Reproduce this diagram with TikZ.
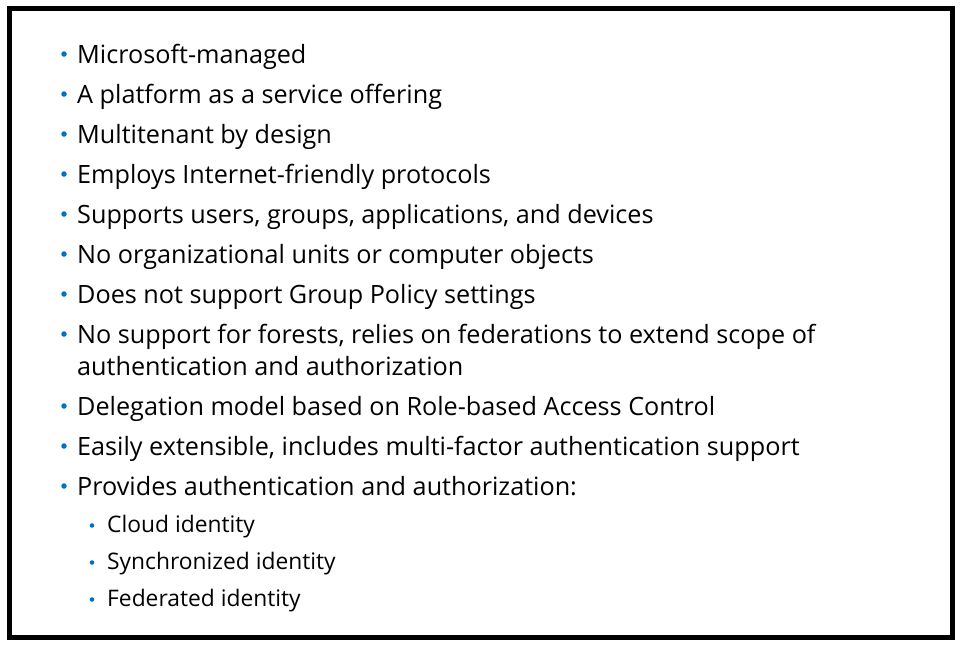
\documentclass[tikz,border=0pt]{standalone}
\usepackage{fontspec}
\setmainfont{Open Sans}
\usepackage{xcolor}
\definecolor{bulletblue}{RGB}{0,114,198}

\begin{document}
\begin{tikzpicture}[x=1pt, y=-1pt]
        % ================= 样式定义 =================
        \tikzset{
            % 一级条目
            item/.style={anchor=base west, inner sep=0pt, font=\fontsize{25.2}{30}\selectfont},
            % 二级条目
            subitem/.style={anchor=base west, inner sep=0pt, font=\fontsize{22.8}{27}\selectfont},
            % 项目符号
            dot/.style={circle, fill=bulletblue, inner sep=0pt, minimum size=5.5pt},
            subdot/.style={circle, fill=bulletblue, inner sep=0pt, minimum size=4.6pt},
            % 外框
            frame/.style={draw=black, line width=5pt}
        }
        \useasboundingbox (0,0) rectangle (960,645);

        % ================= 外框 =================
        \draw[frame] (9.5,8.5) rectangle (952.5,637.5);

        % ================= 一级条目 =================
        \node[item] (t1) at (77,63) {Microsoft-managed};
        \node[item] (t2) at (77,103) {A platform as a service offering};
        \node[item] (t3) at (77,143) {Multitenant by design};
        \node[item] (t4) at (77,183) {Employs Internet-friendly protocols};
        \node[item] (t5) at (77,223) {Supports users, groups, applications, and devices};
        \node[item] (t6) at (77,263) {No organizational units or computer objects};
        \node[item] (t7) at (77,303) {Does not support Group Policy settings};
        \node[item] (t8) at (77,343) {No support for forests, relies on federations to extend scope of};
        \node[item] (t8b) at (77,375) {authentication and authorization};
        \node[item] (t9) at (77,415) {Delegation model based on Role-based Access Control};
        \node[item] (t10) at (77,455) {Easily extensible, includes multi-factor authentication support};
        \node[item] (t11) at (77,495) {Provides authentication and authorization:};

        % ================= 二级条目 =================
        \node[subitem] (s1) at (107,532) {Cloud identity};
        \node[subitem] (s2) at (107,569) {Synchronized identity};
        \node[subitem] (s3) at (107,606) {Federated identity};

        % ================= 项目符号 =================
        \foreach \y in {63,103,143,183,223,263,303,343,415,455,495}
            \node[dot] at (64,\y-9) {};
        \foreach \y in {532,569,606}
            \node[subdot] at (92,\y-6.5) {};

    \end{tikzpicture}
\end{document}
